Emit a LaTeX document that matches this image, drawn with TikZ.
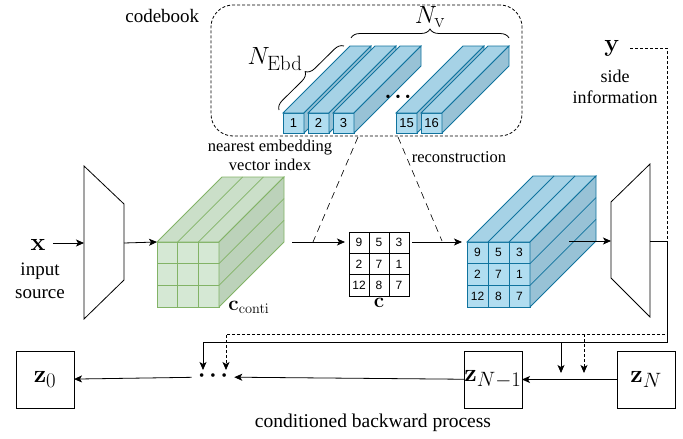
\documentclass[tikz,border=0pt]{standalone}
\usepackage[no-math]{fontspec}
\setmainfont{Liberation Serif}
\newfontfamily\cellfont{Liberation Sans}
\usepackage{amsmath}
\usetikzlibrary{positioning}
\usetikzlibrary{calc}
\usetikzlibrary{arrows.meta}
\usetikzlibrary{decorations.pathreplacing}

\definecolor{grfront}{HTML}{D5E8D4}
\definecolor{grtop}{HTML}{CBDFC9}
\definecolor{grside}{HTML}{BCD2BA}
\definecolor{grline}{HTML}{82B366}
\definecolor{blfront}{HTML}{B1DDF0}
\definecolor{bltop}{HTML}{A6D2E6}
\definecolor{blside}{HTML}{98C2D6}
\definecolor{blline}{HTML}{10739E}

\tikzset{
  lbl/.style={font=\fontsize{19}{23}\selectfont, align=center, inner sep=0pt},
  smalllbl/.style={font=\fontsize{16.5}{19}\selectfont, align=center, inner sep=0pt},
  mathlbl/.style={font=\fontsize{24.88}{28}\selectfont, inner sep=0pt},
  zbox/.style={draw, minimum width=58pt, minimum height=57pt, inner sep=0pt, outer sep=0pt, font=\fontsize{24.88}{28}\selectfont},
  cellnum/.style={font=\cellfont\fontsize{12}{14}\selectfont, inner sep=0pt},
  barfront/.style={draw=blline, fill=blfront, minimum width=21pt, minimum height=20pt, inner sep=0pt, outer sep=0pt, font=\cellfont\fontsize{13}{15}\selectfont},
  cube/.style={minimum height=65pt, inner sep=0pt, outer sep=0pt},
  flow/.style={-{Stealth[length=8pt, width=7pt, inset=2pt]}},
  sideinfo/.style={dash pattern=on 3pt off 2pt},
  lookup/.style={dash pattern=on 7pt off 5pt, line width=0.6pt},
}

\begin{document}
\begin{tikzpicture}[x=1pt, y=-1pt, line width=0.8pt]
\useasboundingbox (0,0) rectangle (683,439);

% codebook
\node[draw, sideinfo, rounded corners=22pt, minimum width=311pt, minimum height=131pt, inner sep=0pt] (cbook) at (366.5,70.5) {};
\node[lbl, below left=4pt and 11pt of cbook.north west] (cbooklbl) {codebook};

\foreach \n/\xl in {1/283, 2/308, 3/333, 15/396, 16/421} {
  \node[barfront] (bar\n) at (\xl+10.5,123) {\n};
  \filldraw[fill=bltop, draw=blline] (bar\n.north west) -- ++(67,-67) -- ++(21,0) -- (bar\n.north east) -- cycle;
  \filldraw[fill=blside, draw=blline] (bar\n.north east) -- ++(67,-67) -- ++(0,20) -- (bar\n.south east) -- cycle;
}
\node[font=\fontsize{14}{16}\selectfont, inner sep=0pt] (bardots) at (398,98) {•\hspace{5pt}•\hspace{5pt}•};

\draw[decorate, decoration={brace, amplitude=9pt}] ($(bar1.north west)+(-4,-3)$) -- ($(bar1.north west)+(61,-67)$);
\draw[decorate, decoration={brace, amplitude=9pt}] ($(bar1.north west)+(68,-75)$) -- ($(bar16.north east)+(67,-75)$);
\node[mathlbl] (nebd) at (275,59) {$N_{\mathrm{Ebd}}$};
\node[mathlbl] (nv) at (430,17) {$N_{\mathrm{v}}$};

% encoder
\draw (84,166) -- (124,204) -- (124,280) -- (84,319) -- cycle;
\coordinate (enc-in) at (84,243);
\coordinate (enc-out) at (124,243);
\node[mathlbl] (xvar) at (38,245) {$\mathbf{x}$};
\node[lbl] (xlab) at (40,281) {input\\source};
\draw[flow, shorten <=7pt] (xvar.east |- enc-in) -- (enc-in);

% cubo continuo
\node[cube, draw=grline, fill=grfront, minimum width=62pt] (cconti) at (188,274.5) {};
\filldraw[fill=grtop, draw=grline] (cconti.north west) -- ++(65,-65) -- ++(62,0) -- (cconti.north east) -- cycle;
\filldraw[fill=grside, draw=grline] (cconti.north east) -- ++(65,-65) -- ++(0,65) -- (cconti.south east) -- cycle;
\foreach \i in {1,2} {
  \draw[grline] ($(cconti.north west)+(\i*62/3,0)$) -- ++(0,65);
  \draw[grline] ($(cconti.north west)+(0,\i*65/3)$) -- ++(62,0);
  \draw[grline] ($(cconti.north west)+(\i*62/3,0)$) -- ++(65,-65);
  \draw[grline] ($(cconti.north east)+(0,\i*65/3)$) -- ++(65,-65);
}
\node[mathlbl, font=\fontsize{20.74}{24}\selectfont, right=9pt of cconti.south east] (ccontilbl) {$\mathbf{c}_{\mathrm{conti}}$};
\draw[flow] (enc-out) -- (cconti.north west);

% indici
\node[draw, minimum width=60pt, minimum height=64pt, inner sep=0pt, outer sep=0pt] (cidx) at (379,264) {};
\foreach \i in {1,2} {
  \draw ($(cidx.north west)+(\i*20,0)$) -- ++(0,64);
  \draw ($(cidx.north west)+(0,\i*64/3)$) -- ++(60,0);
}
\foreach \v/\cc/\rr in {9/0/0, 5/1/0, 3/2/0, 2/0/1, 7/1/1, 1/2/1, 12/0/2, 8/1/2, 7/2/2} {
  \node[cellnum] (cidx-\cc-\rr) at ($(cidx.north west)+(\cc*20+10,\rr*64/3+32/3)$) {\v};
}
\node[mathlbl, font=\fontsize{20.74}{24}\selectfont, below=2pt of cidx] (cidxlbl) {$\mathbf{c}$};

% cubo ricostruito
\node[cube, draw=blline, fill=blfront, minimum width=63pt] (crec) at (498.5,274.5) {};
\filldraw[fill=bltop, draw=blline] (crec.north west) -- ++(66,-66) -- ++(63,0) -- (crec.north east) -- cycle;
\filldraw[fill=blside, draw=blline] (crec.north east) -- ++(66,-66) -- ++(0,65) -- (crec.south east) -- cycle;
\foreach \i in {1,2} {
  \draw[blline] ($(crec.north west)+(\i*21,0)$) -- ++(0,65);
  \draw[blline] ($(crec.north west)+(0,\i*65/3)$) -- ++(63,0);
  \draw[blline] ($(crec.north west)+(\i*21,0)$) -- ++(66,-66);
  \draw[blline] ($(crec.north east)+(0,\i*65/3)$) -- ++(66,-66);
}
\foreach \v/\cc/\rr in {9/0/0, 5/1/0, 3/2/0, 2/0/1, 7/1/1, 1/2/1, 12/0/2, 8/1/2, 7/2/2} {
  \node[cellnum] (crec-\cc-\rr) at ($(crec.north west)+(\cc*21+10.5,\rr*65/3+65/6)$) {\v};
}

% frecce e linee tratteggiate
\coordinate (cconti-out) at ($(cconti.north east)+(73,0)$);
\coordinate (nn-end) at ($(cconti.north east)+(94,0)$);
\coordinate (nn-start) at ($(bar3.south east)+(4,4)$);
\coordinate (rec-start) at ($(bar15.south west)+(2,4)$);
\coordinate (rec-end) at ($(crec.north west)+(-25,-1)$);
\draw[flow, shorten >=4pt] (cconti-out) -- (cidx.west |- cconti-out);
\draw[flow, shorten <=3pt, shorten >=5pt] (cidx.east |- crec.north west) -- (crec.north west);
\draw[lookup] (nn-start) -- (nn-end);
\draw[lookup] (rec-start) -- (rec-end);
\node[smalllbl] (nnlbl) at (270,155) {nearest embedding\\vector index};
\node[smalllbl] (reclbl) at (459,157) {reconstruction};

% decoder
\draw (611,202) -- (650,164) -- (650,317) -- (611,278) -- cycle;
\coordinate (dec-in) at (611,241);
\coordinate (dec-out) at (650,241);
\draw[flow] ($(crec.north east)+(39,-1)$) -- (dec-in);

% informazione laterale
\node[mathlbl] (yvar) at (612,48) {$\mathbf{y}$};
\node[lbl, font=\fontsize{18}{21}\selectfont] (ylab) at (615,87) {side\\information};

% processo backward
\node[zbox] (zN) at (646,379.5) {$\mathbf{z}_N$};
\node[zbox, left=95pt of zN] (zN1) {$\mathbf{z}_{N-1}$};
\node[zbox] (z0) at (45,379.5) {$\mathbf{z}_0$};
\node[font=\fontsize{15}{17}\selectfont, inner xsep=7pt, inner ysep=2pt] (bdots) at (213,377) {•\hspace{6pt}•\hspace{6pt}•};
\draw[flow] (zN) -- (zN1);
\draw[flow] (zN1) -- (bdots);
\draw[flow] (bdots) -- (z0);
\node[lbl, font=\fontsize{19.5}{23}\selectfont] (bwlbl) at (373,423) {conditioned backward process};

\coordinate (fb-r) at (667,342);
\coordinate (fb-l) at (203,342);
\coordinate (fb-m) at (561,342);
\coordinate (si-start) at (630,48);
\coordinate (si-r) at (667,334);
\coordinate (si-l) at (226,334);
\coordinate (si-m) at (584,334);
\draw[sideinfo, flow] (si-start) -| (si-r) -- (si-l) -- ++(0,36);
\draw[sideinfo, flow] (si-m) -- ++(0,39);
\draw[flow] (dec-out) -| (fb-r) -- (fb-l) -- ++(0,28);
\draw[flow] (fb-m) -- ++(0,31);
\end{tikzpicture}
\end{document}
